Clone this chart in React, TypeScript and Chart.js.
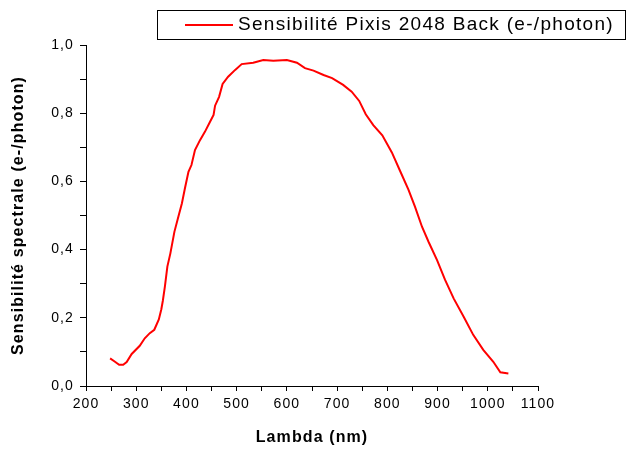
import React, { useEffect, useRef } from 'react';
import { Chart, registerables } from 'chart.js';

Chart.register(...registerables);

const wavelengths = [
  248, 257, 266, 274, 281, 291, 307, 317, 327, 336, 345, 350, 353, 357, 362, 368,
  376, 384, 391, 397, 404, 410, 417, 427, 437, 447, 454, 457, 465, 472, 483, 497,
  510, 533, 553, 573, 600, 620, 636, 653, 673, 690, 712, 729, 744, 757, 772, 790,
  809, 825, 842, 855, 869, 882, 899, 915, 932, 952, 971, 991, 1011, 1025, 1041,
];

const sensitivity = [
  0.081, 0.072, 0.062, 0.062, 0.07, 0.094, 0.118, 0.14, 0.155, 0.165, 0.195, 0.225, 0.25, 0.291, 0.35, 0.389,
  0.452, 0.497, 0.536, 0.58, 0.628, 0.648, 0.692, 0.721, 0.746, 0.775, 0.795, 0.822, 0.848, 0.886, 0.907, 0.927,
  0.944, 0.948, 0.956, 0.954, 0.956, 0.948, 0.932, 0.925, 0.912, 0.903, 0.883, 0.863, 0.836, 0.797, 0.765, 0.735,
  0.685, 0.632, 0.576, 0.526, 0.467, 0.423, 0.369, 0.311, 0.257, 0.203, 0.15, 0.106, 0.071, 0.04, 0.037,
];

const seriesLabel = 'Sensibilité Pixis 2048 Back (e-/photon)';
const xTitle = 'Lambda (nm)';
const yTitle = 'Sensibilité spectrale (e-/photon)';
const xMajorTicks = [200, 300, 400, 500, 600, 700, 800, 900, 1000, 1100];
const yMajorTicks = ['0,0', '0,2', '0,4', '0,6', '0,8', '1,0'];

const FONT = "'Liberation Sans', Arial, sans-serif";

const spacingPlugin = {
  id: 'spacing',
  beforeDraw(chart: any) {
    chart.ctx.letterSpacing = '1.1px';
  },
  afterDraw(chart: any) {
    chart.ctx.letterSpacing = '0px';
  },
};

const legendBoxPlugin = {
  id: 'legendBox',
  afterDraw(chart: any) {
    const ctx = chart.ctx;
    const ds = chart.data.datasets[0];
    ctx.save();
    ctx.strokeStyle = '#000';
    ctx.lineWidth = 1;
    ctx.strokeRect(157.5, 10.5, 468, 29);
    ctx.strokeStyle = ds.borderColor;
    ctx.lineWidth = 2;
    ctx.beginPath();
    ctx.moveTo(185, 25);
    ctx.lineTo(233, 25);
    ctx.stroke();
    ctx.fillStyle = '#000';
    ctx.font = `19px ${FONT}`;
    ctx.letterSpacing = '1.3px';
    ctx.textBaseline = 'middle';
    ctx.textAlign = 'left';
    ctx.fillText(ds.label, 238, 25);
    ctx.restore();
  },
};

export default function App() {
  const ref = useRef<HTMLCanvasElement>(null);

  useEffect(() => {
    if (!ref.current) return;
    Chart.defaults.font.family = FONT;
    const chart = new Chart(ref.current, {
      type: 'line',
      data: {
        datasets: [
          {
            label: seriesLabel,
            data: wavelengths.map((x, i) => ({ x, y: sensitivity[i] })),
            borderColor: '#ff0000',
            borderWidth: 2,
            pointRadius: 0,
            tension: 0,
            fill: false,
          },
        ],
      },
      options: {
        animation: false,
        responsive: false,
        events: [],
        layout: { padding: { left: 0, right: 92, top: 45, bottom: 0 } },
        plugins: {
          legend: { display: false },
          tooltip: { enabled: false },
        },
        scales: {
          x: {
            type: 'linear',
            min: 200,
            max: 1100,
            ticks: {
              stepSize: 50,
              autoSkip: false,
              maxRotation: 0,
              color: '#000',
              padding: 5,
              font: { size: 14, family: FONT },
              callback: (v: any) => {
                const n = Math.round(Number(v));
                return xMajorTicks.includes(n) ? String(n) : '';
              },
            },
            grid: {
              drawOnChartArea: false,
              drawTicks: true,
              tickLength: 5,
              color: '#000',
              tickColor: '#000',
            },
            border: { display: true, color: '#000', width: 1 },
            title: {
              display: true,
              text: xTitle,
              color: '#000',
              font: { size: 16, weight: 'bold', family: FONT },
              padding: { top: 0, bottom: 3 },
            },
            afterFit: (s: any) => {
              s.height = 64;
            },
          },
          y: {
            type: 'linear',
            min: 0,
            max: 1,
            ticks: {
              stepSize: 0.1,
              autoSkip: false,
              color: '#000',
              padding: 6,
              font: { size: 14, family: FONT },
              callback: (v: any) => {
                const label = Number(v).toFixed(1).replace('.', ',');
                return yMajorTicks.includes(label) ? label : '';
              },
            },
            grid: {
              drawOnChartArea: false,
              drawTicks: true,
              tickLength: 6,
              color: '#000',
              tickColor: '#000',
            },
            border: { display: true, color: '#000', width: 1 },
            title: {
              display: true,
              text: yTitle,
              color: '#000',
              font: { size: 16, weight: 'bold', family: FONT },
              padding: { top: 9, bottom: 0 },
            },
            afterFit: (s: any) => {
              s.width = 86;
            },
          },
        },
      } as any,
      plugins: [spacingPlugin, legendBoxPlugin],
    });
    return () => chart.destroy();
  }, []);

  return (
    <div style={{ position: 'fixed', left: 0, top: 0, width: 630, height: 450, background: '#fff' }}>
      <canvas ref={ref} width={630} height={450} style={{ display: 'block' }} />
    </div>
  );
}
